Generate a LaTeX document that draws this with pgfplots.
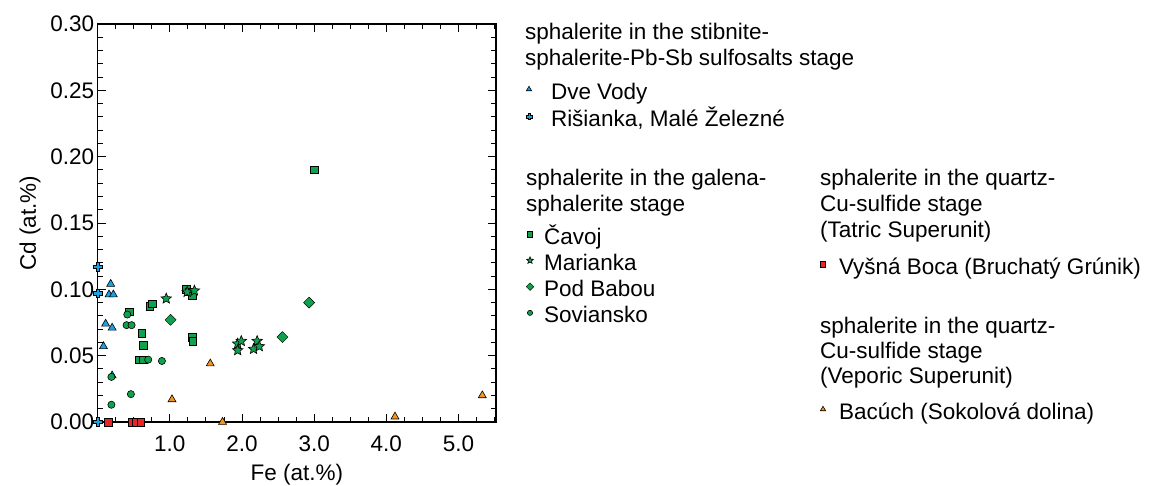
\documentclass[border=0pt]{standalone}
\usepackage{pgfplots}
\pgfplotsset{compat=1.18}
\usepackage{fontspec}
\setmainfont{Liberation Sans}
\newcommand\fs{\fontsize{22.5}{25}\selectfont}
\newcommand\rl{\rule[-4pt]{0pt}{25pt}}
\definecolor{cblue}{HTML}{1BA1E2}
\definecolor{cgreen}{HTML}{10A04E}
\definecolor{cred}{HTML}{E8262A}
\definecolor{corange}{HTML}{F7941D}
\pgfdeclareplotmark{fplus}{%
  \pgfpathmoveto{\pgfqpoint{-0.36\pgfplotmarksize}{\pgfplotmarksize}}%
  \pgfpathlineto{\pgfqpoint{0.36\pgfplotmarksize}{\pgfplotmarksize}}%
  \pgfpathlineto{\pgfqpoint{0.36\pgfplotmarksize}{0.36\pgfplotmarksize}}%
  \pgfpathlineto{\pgfqpoint{\pgfplotmarksize}{0.36\pgfplotmarksize}}%
  \pgfpathlineto{\pgfqpoint{\pgfplotmarksize}{-0.36\pgfplotmarksize}}%
  \pgfpathlineto{\pgfqpoint{0.36\pgfplotmarksize}{-0.36\pgfplotmarksize}}%
  \pgfpathlineto{\pgfqpoint{0.36\pgfplotmarksize}{-\pgfplotmarksize}}%
  \pgfpathlineto{\pgfqpoint{-0.36\pgfplotmarksize}{-\pgfplotmarksize}}%
  \pgfpathlineto{\pgfqpoint{-0.36\pgfplotmarksize}{-0.36\pgfplotmarksize}}%
  \pgfpathlineto{\pgfqpoint{-\pgfplotmarksize}{-0.36\pgfplotmarksize}}%
  \pgfpathlineto{\pgfqpoint{-\pgfplotmarksize}{0.36\pgfplotmarksize}}%
  \pgfpathlineto{\pgfqpoint{-0.36\pgfplotmarksize}{0.36\pgfplotmarksize}}%
  \pgfpathclose\pgfusepathqfillstroke}
\pgfdeclareplotmark{fstar}{%
  \pgfpathmoveto{\pgfqpoint{0pt}{\pgfplotmarksize}}%
  \pgfpathlineto{\pgfqpoint{-0.2645\pgfplotmarksize}{0.3641\pgfplotmarksize}}%
  \pgfpathlineto{\pgfqpoint{-0.9511\pgfplotmarksize}{0.3090\pgfplotmarksize}}%
  \pgfpathlineto{\pgfqpoint{-0.4280\pgfplotmarksize}{-0.1391\pgfplotmarksize}}%
  \pgfpathlineto{\pgfqpoint{-0.5878\pgfplotmarksize}{-0.8090\pgfplotmarksize}}%
  \pgfpathlineto{\pgfqpoint{0pt}{-0.45\pgfplotmarksize}}%
  \pgfpathlineto{\pgfqpoint{0.5878\pgfplotmarksize}{-0.8090\pgfplotmarksize}}%
  \pgfpathlineto{\pgfqpoint{0.4280\pgfplotmarksize}{-0.1391\pgfplotmarksize}}%
  \pgfpathlineto{\pgfqpoint{0.9511\pgfplotmarksize}{0.3090\pgfplotmarksize}}%
  \pgfpathlineto{\pgfqpoint{0.2645\pgfplotmarksize}{0.3641\pgfplotmarksize}}%
  \pgfpathclose\pgfusepathqfillstroke}
\pgfplotsset{
  mk/.style={only marks, mark options={draw=black, line width=0.6pt}},
  legbase/.style={legend style={draw=none, fill=none, inner sep=0pt, outer sep=0pt,
      font=\fs, row sep=#1, column sep=0pt, cells={anchor=west},
      nodes={inner sep=0pt}}},
}
\pgfplotstableread{
x y
0.18 0.104
0.157 0.096
0.217 0.096
0.11 0.074
0.20 0.071
0.08 0.057
0.20 0.035
}\dvevody
\pgfplotstableread{
x y
0.0 0.117
0.0 0.097
0.0 0.0
}\risianka
\pgfplotstableread{
x y
0.44 0.083
0.72 0.087
0.76 0.089
1.23 0.100
1.26 0.098
1.31 0.095
0.61 0.067
0.63 0.058
0.58 0.047
0.63 0.047
1.31 0.064
1.32 0.061
3.00 0.190
}\cavoj
\pgfplotstableread{
x y
0.95 0.093
1.24 0.098
1.34 0.099
1.94 0.059
1.99 0.061
1.94 0.054
2.16 0.055
2.21 0.061
2.24 0.057
}\marianka
\pgfplotstableread{
x y
1.01 0.077
2.56 0.064
2.93 0.090
}\podbabou
\pgfplotstableread{
x y
0.41 0.081
0.40 0.073
0.47 0.073
0.70 0.047
0.89 0.046
0.46 0.021
0.19 0.013
0.19 0.034
}\soviansko
\pgfplotstableread{
x y
0.15 0
0.47 0
0.53 0
0.60 0
}\vysna
\pgfplotstableread{
x y
1.03 0.017
1.56 0.044
1.73 0.0
4.12 0.004
5.33 0.020
}\bacuch
\begin{document}
\begin{tikzpicture}
\useasboundingbox (-97.7pt,-63pt) rectangle (1057.3pt,422pt);
\begin{axis}[
  scale only axis, width=398.3pt, height=398pt,
  xmin=0, xmax=5.52, ymin=0, ymax=0.30,
  clip=false,
  axis line style={line width=1.6pt},
  tick style={line width=0.9pt, black},
  tick align=inside,
  major tick length=8pt, minor tick length=5pt,
  xtick={1,2,3,4,5},
  minor xtick={0.25,0.5,0.75,1.25,1.5,1.75,2.25,2.5,2.75,3.25,3.5,3.75,4.25,4.5,4.75,5.25,5.5},
  ytick={0,0.05,0.10,0.15,0.20,0.25,0.30},
  minor ytick={0.01,0.02,0.03,0.04,0.06,0.07,0.08,0.09,0.11,0.12,0.13,0.14,0.16,0.17,0.18,0.19,0.21,0.22,0.23,0.24,0.26,0.27,0.28,0.29},
  /pgf/number format/assume math mode=true,
  xticklabel style={font=\fs, yshift=-10pt, /pgf/number format/.cd, fixed, fixed zerofill, precision=1},
  yticklabel style={font=\fs, /pgf/number format/.cd, fixed, fixed zerofill, precision=2},
  scaled y ticks=false,
  xlabel={Fe (at.\%)}, ylabel={Cd (at.\%)},
  label style={font=\fs},
  xlabel style={yshift=-5.5pt},
  ylabel style={yshift=3pt},
  legbase=5pt,
  legend style={at={(1.0703,0.8643)}, anchor=north west},
  legend image code/.code={\draw[#1] plot coordinates {(5pt,0pt)}; \path[draw=none,fill=none] (0pt,-1pt) rectangle (27pt,1pt);},
]
\addplot[mk, forget plot, mark=triangle*, mark size=4.6pt, fill=cblue] table {\dvevody};
\addplot[mk, forget plot, mark=fplus, mark size=4.4pt, fill=cblue] table {\risianka};
\addplot[mk, forget plot, mark=square*, mark size=3.8pt, fill=cgreen] table {\cavoj};
\addplot[mk, forget plot, mark=fstar, mark size=5.5pt, fill=cgreen] table {\marianka};
\addplot[mk, forget plot, mark=square*, mark size=3.9pt, mark options={rotate=45}, fill=cgreen] table {\podbabou};
\addplot[mk, forget plot, mark=*, mark size=3.6pt, fill=cgreen] table {\soviansko};
\addplot[mk, forget plot, mark=square*, mark size=3.8pt, fill=cred] table {\vysna};
\addplot[mk, forget plot, mark=triangle*, mark size=4.6pt, fill=corange] table {\bacuch};
\addlegendimage{mk, mark=triangle*, mark size=3pt, fill=cblue}
\addlegendentry{\rl Dve Vody}
\addlegendimage{mk, mark=fplus, mark size=3pt, fill=cblue}
\addlegendentry{\rl Rišianka, Malé Železné}
\end{axis}
% group 2 legend
\begin{axis}[
  hide axis, scale only axis, width=398.3pt, height=398pt,
  xmin=0, xmax=1, ymin=0, ymax=1,
  legbase=3.7pt,
  legend style={at={(1.0728,0.5)}, anchor=north west},
  legend image code/.code={\draw[#1] plot coordinates {(5pt,0pt)}; \path[draw=none,fill=none] (0pt,-1pt) rectangle (19pt,1pt);},
]
\addlegendimage{mk, mark=square*, mark size=2.6pt, fill=cgreen}
\addlegendentry{\rl Čavoj}
\addlegendimage{mk, mark=fstar, mark size=3.6pt, fill=cgreen}
\addlegendentry{\rl Marianka}
\addlegendimage{mk, mark=square*, mark size=2.7pt, mark options={rotate=45}, fill=cgreen}
\addlegendentry{\rl Pod Babou}
\addlegendimage{mk, mark=*, mark size=2.6pt, fill=cgreen}
\addlegendentry{\rl Soviansko}
\end{axis}
% group 3 legend
\begin{axis}[
  hide axis, scale only axis, width=398.3pt, height=398pt,
  xmin=0, xmax=1, ymin=0, ymax=1,
  legbase=0pt,
  legend style={at={(1.8084,0.4246)}, anchor=north west},
  legend image code/.code={\draw[#1] plot coordinates {(5pt,0pt)}; \path[draw=none,fill=none] (0pt,-1pt) rectangle (21pt,1pt);},
]
\addlegendimage{mk, mark=square*, mark size=2.6pt, fill=cred}
\addlegendentry{\rl Vyšná Boca (Bruchatý Grúnik)}
\end{axis}
% group 4 legend
\begin{axis}[
  hide axis, scale only axis, width=398.3pt, height=398pt,
  xmin=0, xmax=1, ymin=0, ymax=1,
  legbase=0pt,
  legend style={at={(1.8084,0.0603)}, anchor=north west},
  legend image code/.code={\draw[#1] plot coordinates {(5pt,0pt)}; \path[draw=none,fill=none] (0pt,-1pt) rectangle (21pt,1pt);},
]
\addlegendimage{mk, mark=triangle*, mark size=3pt, fill=corange}
\addlegendentry{\rl Bacúch (Sokolová dolina)}
\end{axis}
% group titles
\begin{scope}[every node/.style={anchor=base west, inner sep=0pt, font=\fs}]
\node at (427.3pt,382pt) {sphalerite in the stibnite-};
\node at (427.3pt,356pt) {sphalerite-Pb-Sb sulfosalts stage};
\node at (428.3pt,236pt) {sphalerite in the galena-};
\node at (428.3pt,211pt) {sphalerite stage};
\node at (722.3pt,236pt) {sphalerite in the quartz-};
\node at (722.3pt,211pt) {Cu-sulfide stage};
\node at (722.3pt,185pt) {(Tatric Superunit)};
\node at (722.3pt,89pt) {sphalerite in the quartz-};
\node at (722.3pt,64pt) {Cu-sulfide stage};
\node at (722.3pt,39pt) {(Veporic Superunit)};
\end{scope}
\end{tikzpicture}
\end{document}
